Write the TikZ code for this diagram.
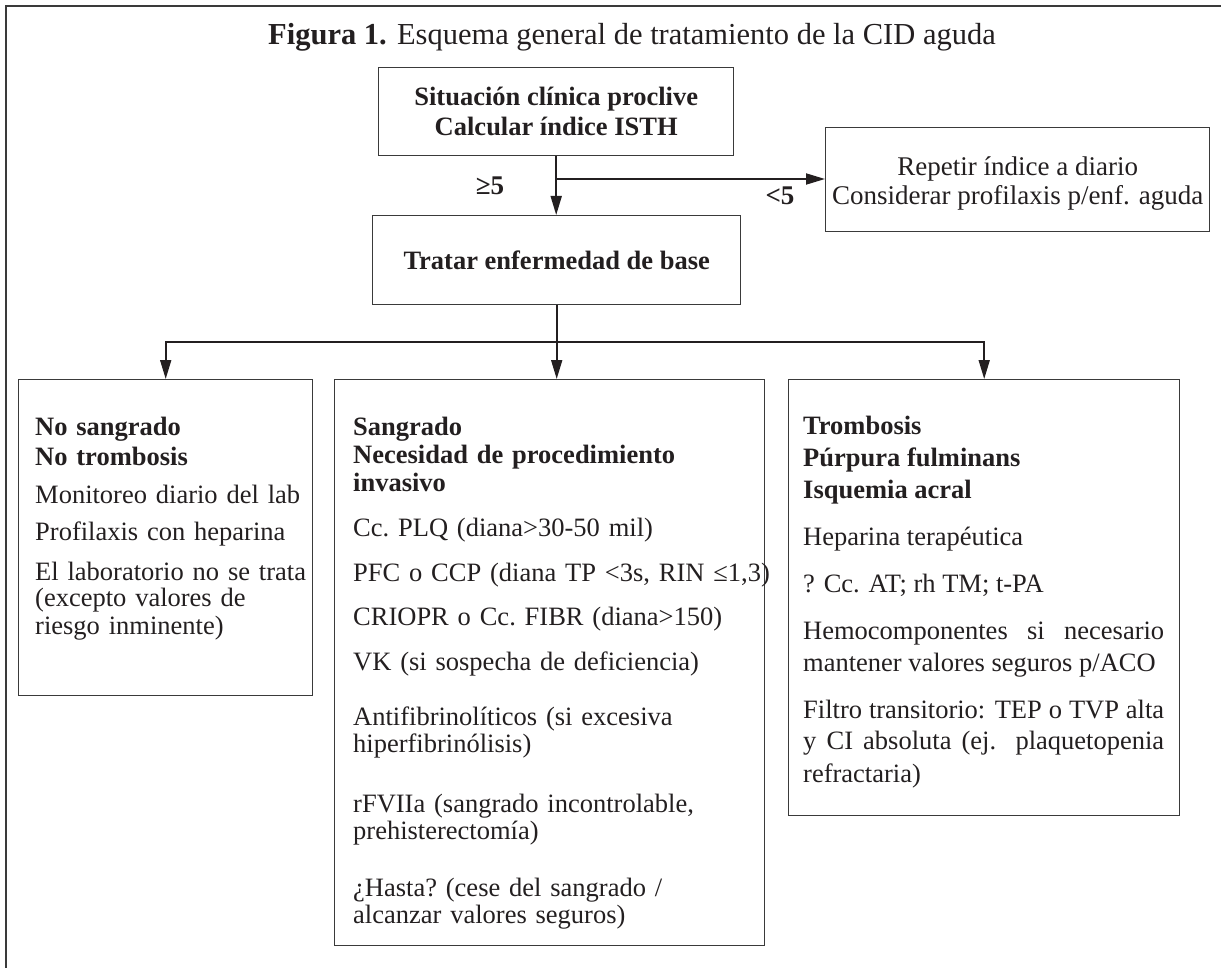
\documentclass[tikz,border=0pt]{standalone}
\usepackage{fontspec}
\setmainfont{Liberation Serif}
\usetikzlibrary{arrows.meta}
\definecolor{ink}{HTML}{231F20}
\definecolor{frame}{HTML}{3A3A3A}
\tikzset{
  boxline/.style={draw=frame, line width=1.4pt},
  bx/.style={boxline, rectangle, inner sep=0pt, anchor=north west},
  conn/.style={draw=ink, line width=1.8pt},
  tip/.tip={Triangle[width=11pt,length=19pt]},
  arr/.style={conn, -tip},
  bodytext/.style={font=\fontsize{26.5}{27}\selectfont\frenchspacing, text=ink, inner sep=0pt, anchor=base west, align=left},
  headtext/.style={font=\bfseries\fontsize{26.5}{30}\selectfont, text=ink, inner sep=0pt, align=center},
}
\newcommand{\pgap}[1]{\par\vspace{#1}}
\begin{document}
\begin{tikzpicture}[x=1pt,y=-1pt]
\useasboundingbox (0,0) rectangle (1221,968);
% outer frame (open at right and bottom)
\draw[draw=frame, line width=2pt] (1221,6) -- (6,6) -- (6,968);

\node[font=\fontsize{30.5}{36}\selectfont, text=ink, anchor=base, inner sep=0pt] (title) at (632,45)
  {\textbf{Figura 1.} Esquema general de tratamiento de la CID aguda};

% boxes
\node[bx, minimum width=355pt, minimum height=88pt] (b0) at (378,67) {};
\node[headtext] (t0) at (b0.center) {Situación clínica proclive\\Calcular índice ISTH};

\node[bx, minimum width=384pt, minimum height=104pt] (bR) at (825,127) {};
\node[font=\fontsize{27}{29}\selectfont, text=ink, align=center, inner sep=0pt, yshift=-4pt] (tR) at (bR.center)
  {Repetir índice a diario\\Considerar profilaxis p/enf. aguda};

\node[bx, minimum width=368pt, minimum height=89pt] (b1) at (372,215) {};
\node[headtext] (t1) at (b1.center) {Tratar enfermedad de base};

\node[bx, minimum width=294pt, minimum height=316pt] (n1) at (18,379) {};
\node[bx, minimum width=430pt, minimum height=566pt] (n2) at (334,379) {};
\node[bx, minimum width=391pt, minimum height=436pt] (n3) at (788,379) {};

% labels
\node[font=\bfseries\fontsize{27}{30}\selectfont, text=ink, anchor=base, inner sep=0pt] (ge) at (490,195) {≥5};
\node[font=\bfseries\fontsize{27}{30}\selectfont, text=ink, anchor=base, inner sep=0pt] (lt) at (780,205) {<5};

% box texts
\node[bodytext, text width=300pt] (x1) at (35,435) {%
  {\bfseries No sangrado\\[3pt]No trombosis}\pgap{11pt}
  Monitoreo diario del lab\pgap{10pt}
  Profilaxis con heparina\pgap{13pt}
  El laboratorio no se trata\\(excepto valores de\\riesgo inminente)};

\node[bodytext, text width=420pt] (x2) at (353,435) {%
  {\bfseries Sangrado\\[1pt]Necesidad de procedimiento\\[1pt]invasivo}\pgap{18pt}
  Cc. PLQ (diana>30-50 mil)\pgap{18pt}
  PFC o CCP (diana TP <3s, RIN ≤1,3)\pgap{18pt}
  CRIOPR o Cc. FIBR (diana>150)\pgap{18pt}
  VK (si sospecha de deficiencia)\pgap{27pt}
  Antifibrinolíticos (si excesiva\\hiperfibrinólisis)\pgap{33pt}
  rFVIIa (sangrado incontrolable,\\prehisterectomía)\pgap{30pt}
  ¿Hasta? (cese del sangrado /\\alcanzar valores seguros)};

\node[bodytext, align=justify, text width=361pt, font=\fontsize{26.5}{32}\selectfont] (x3) at (803,434) {%
  {\bfseries Trombosis\\Púrpura fulminans\\Isquemia acral}\pgap{15pt}
  Heparina terapéutica\pgap{15pt}
  ? Cc. AT; rh TM; t-PA\pgap{15pt}
  Hemocomponentes si necesario\linebreak mantener valores seguros p/ACO\pgap{15pt}
  Filtro transitorio: TEP o TVP alta\linebreak y CI absoluta (ej. plaquetopenia\linebreak refractaria)};

% connectors
\draw[arr] (b0.south) -- (b0.south |- b1.north);
\coordinate (j) at (b0.south |- 0,179);
\draw[arr] (j) -- (j -| bR.west);
\draw[arr] (b1.south) -- (b1.south |- n2.north);
\coordinate (m) at (b1.south |- 0,342);
\draw[conn, tip-tip] (n1.north) -- (n1.north |- m) -- (n3.north |- m) -- (n3.north);
\end{tikzpicture}
\end{document}
